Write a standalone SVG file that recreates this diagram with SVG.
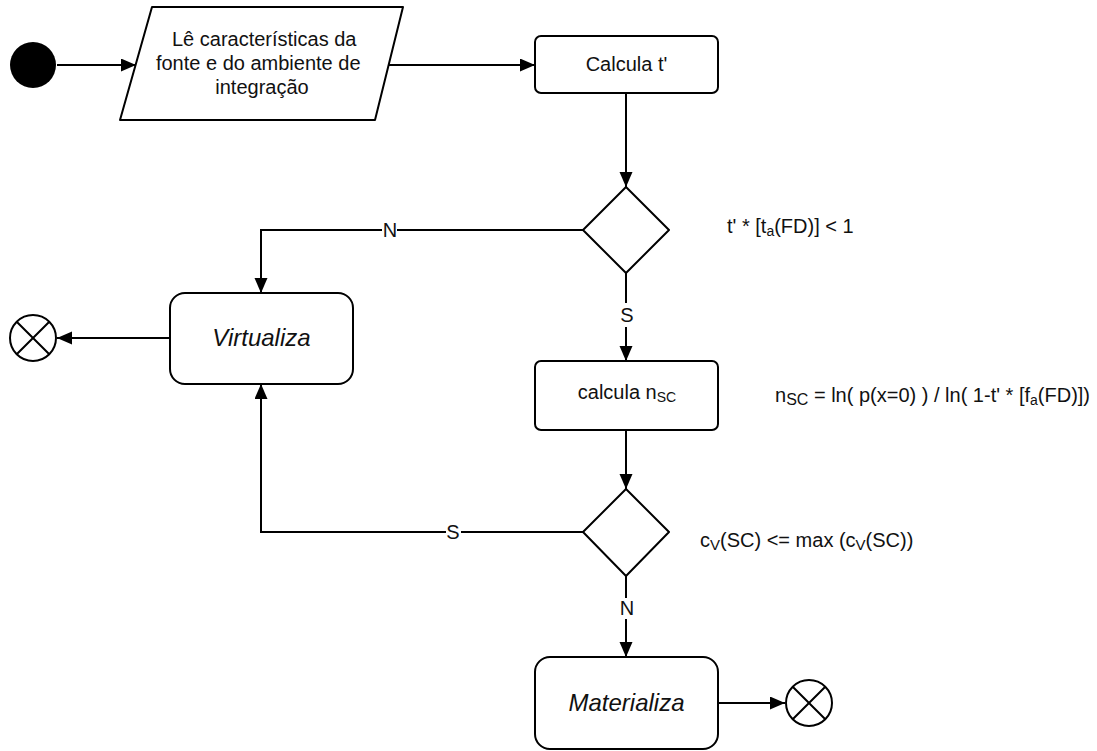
<svg xmlns="http://www.w3.org/2000/svg" width="1097" height="751" viewBox="0 0 1097 751">
  <defs>
    <marker id="arrow" markerUnits="userSpaceOnUse" markerWidth="16" markerHeight="14" refX="15" refY="6.5" orient="auto">
      <path d="M0,0 L15,6.5 L0,13 z" fill="#000"/>
    </marker>
    <style>
      .shape { fill: #fff; stroke: #000; stroke-width: 2; stroke-linejoin: round; }
      .edge { fill: none; stroke: #000; stroke-width: 2; }
      .txt { font-family: "Liberation Sans", Arial, sans-serif; font-size: 20px; fill: #111; }
      .it { font-style: italic; font-size: 24px; }
      .sub { font-size: 14px; }
    </style>
  </defs>
  <rect width="1097" height="751" fill="#fff"/>

  <!-- connectors -->
  <g id="connectors">
    <line class="edge" x1="57" y1="65" x2="136" y2="65" marker-end="url(#arrow)"/>
    <line class="edge" x1="389" y1="65" x2="535" y2="65" marker-end="url(#arrow)"/>
    <line class="edge" x1="626" y1="93" x2="626" y2="187" marker-end="url(#arrow)"/>
    <!-- decision 1: N branch -->
    <polyline class="edge" points="583,230 397,230"/>
    <polyline class="edge" points="382,230 261,230 261,293" marker-end="url(#arrow)"/>
    <!-- decision 1: S branch -->
    <line class="edge" x1="626" y1="273" x2="626" y2="303"/>
    <line class="edge" x1="626" y1="327" x2="626" y2="361" marker-end="url(#arrow)"/>
    <line class="edge" x1="626" y1="430" x2="626" y2="489" marker-end="url(#arrow)"/>
    <!-- decision 2: S branch -->
    <polyline class="edge" points="583,532 461,532"/>
    <polyline class="edge" points="446,532 261,532 261,384" marker-end="url(#arrow)"/>
    <!-- decision 2: N branch -->
    <line class="edge" x1="626" y1="576" x2="626" y2="598"/>
    <line class="edge" x1="626" y1="619" x2="626" y2="657" marker-end="url(#arrow)"/>
    <line class="edge" x1="170" y1="338" x2="57" y2="338" marker-end="url(#arrow)"/>
    <line class="edge" x1="718" y1="703" x2="785" y2="703" marker-end="url(#arrow)"/>
    <text class="txt" x="390" y="237" text-anchor="middle">N</text>
    <text class="txt" x="627" y="322" text-anchor="middle">S</text>
    <text class="txt" x="453" y="539" text-anchor="middle">S</text>
    <text class="txt" x="627" y="615" text-anchor="middle">N</text>
  </g>

  <g id="start">
    <circle cx="33" cy="65" r="23" fill="#000"/>
  </g>

  <g id="read-input">
    <path class="shape" d="M152,7 L403,7 L375,120 L120,120 Z"/>
    <text class="txt" text-anchor="middle">
      <tspan x="267" y="46">Lê características da</tspan>
      <tspan x="261" y="70">fonte e do ambiente de</tspan>
      <tspan x="262" y="94">integração</tspan>
    </text>
  </g>

  <g id="calc-t">
    <rect class="shape" x="535" y="36" width="183" height="57" rx="6"/>
    <text class="txt" x="626.5" y="71" text-anchor="middle">Calcula t'</text>
  </g>

  <g id="decision-1">
    <path class="shape" d="M626,187 L669,230 L626,273 L583,230 Z"/>
    <text class="txt" x="727" y="233">t' * [t<tspan class="sub" dy="3">a</tspan><tspan dy="-3">(FD)] &lt; 1</tspan></text>
  </g>

  <g id="virtualiza">
    <rect class="shape" x="170" y="293" width="183" height="91" rx="15"/>
    <text class="txt it" x="261.5" y="346" text-anchor="middle">Virtualiza</text>
  </g>

  <g id="end-virtual">
    <circle class="shape" cx="33" cy="338" r="23"/>
    <path class="edge" d="M16.7,321.7 L49.3,354.3 M49.3,321.7 L16.7,354.3"/>
  </g>

  <g id="calc-nsc">
    <rect class="shape" x="535" y="361" width="183" height="69" rx="6"/>
    <text class="txt" x="627" y="399" text-anchor="middle">calcula n<tspan class="sub" font-size="16" dy="3">SC</tspan></text>
    <text class="txt" x="775" y="402">n<tspan font-size="16" dy="3">SC</tspan><tspan dy="-3"> = ln( p(x=0) ) / ln( 1-t' * [f</tspan><tspan class="sub" dy="3">a</tspan><tspan dy="-3">(FD)])</tspan></text>
  </g>

  <g id="decision-2">
    <path class="shape" d="M626,489 L669,532 L626,576 L583,532 Z"/>
    <text class="txt" x="700" y="547">c<tspan font-size="15" dy="3">V</tspan><tspan dy="-3">(SC) &lt;= max (c</tspan><tspan font-size="15" dy="3">V</tspan><tspan dy="-3">(SC))</tspan></text>
  </g>

  <g id="materializa">
    <rect class="shape" x="535" y="657" width="183" height="92" rx="15"/>
    <text class="txt it" x="626.5" y="711" text-anchor="middle">Materializa</text>
  </g>

  <g id="end-material">
    <circle class="shape" cx="809" cy="703" r="23"/>
    <path class="edge" d="M792.7,686.7 L825.3,719.3 M825.3,686.7 L792.7,719.3"/>
  </g>
</svg>
